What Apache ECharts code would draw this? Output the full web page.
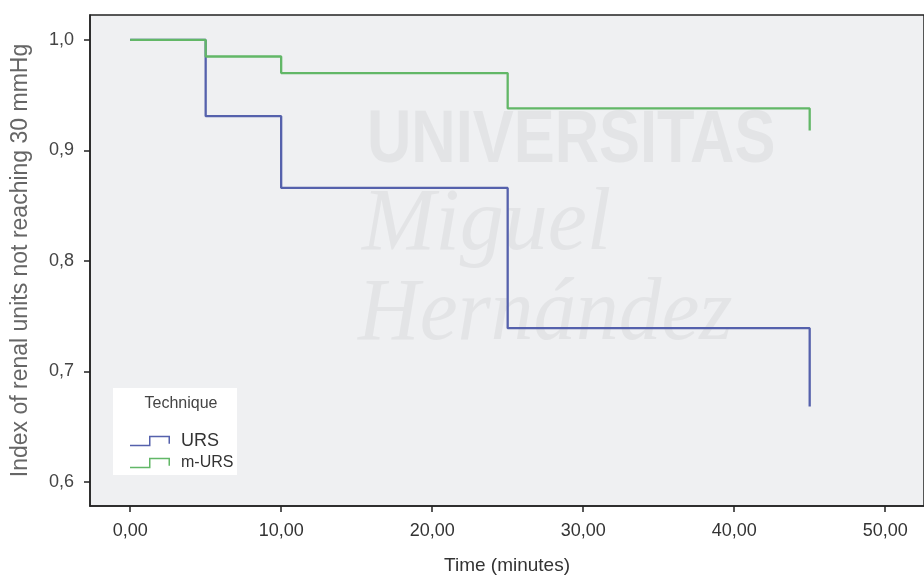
<!DOCTYPE html>
<html>
<head>
<meta charset="utf-8">
<script src="https://cdn.jsdelivr.net/npm/echarts@6/dist/echarts.min.js"></script>
<style>
  html, body { margin: 0; padding: 0; background: #ffffff; }
  #chart { width: 924px; height: 583px; }
</style>
</head>
<body>
<div id="chart"></div>
<script>
// ---- Data ----
const seriesNames = ['URS', 'm-URS'];
const timesURS = [0, 5, 10, 25, 45];
const survURS = [1.0, 0.931, 0.866, 0.739, 0.668];
const timesMURS = [0, 5, 10, 25, 45];
const survMURS = [1.0, 0.985, 0.970, 0.938, 0.918];
const xTicks = [0, 10, 20, 30, 40, 50];
const yTicks = [0.6, 0.7, 0.8, 0.9, 1.0];
const xTitle = 'Time (minutes)';
const yTitle = 'Index of renal units not reaching 30 mmHg';
const legendTitle = 'Technique';

const colURS = '#5561ac';
const colMURS = '#62b767';
const wm = '#e3e4e6';

function pairs(xs, ys) { return xs.map((x, i) => [x, ys[i]]); }
const stepIcon = 'path://M0,9 L19,9 L19,0 L40,0 L40,8 L38.5,8 L38.5,1.5 L20.5,1.5 L20.5,10.5 L0,10.5 Z';

const chart = echarts.init(document.getElementById('chart'), null, { renderer: 'canvas' });
chart.setOption({
  animation: false,
  backgroundColor: '#ffffff',
  grid: {
    left: 90, top: 15, right: -5, bottom: 77,
    show: true, backgroundColor: '#eff0f2', borderColor: '#222', borderWidth: 1.5
  },
  xAxis: {
    type: 'value', min: -2.66, max: 52.57,
    splitLine: { show: false },
    axisLine: { show: true, onZero: false, lineStyle: { color: '#222', width: 1.5 } },
    axisTick: { show: true, customValues: xTicks, length: 6, lineStyle: { color: '#222', width: 1.5 } },
    axisLabel: {
      customValues: xTicks, margin: 16, fontSize: 18, color: '#333',
      fontFamily: 'Liberation Sans, Arial, sans-serif',
      formatter: v => v.toFixed(2).replace('.', ',')
    },
    name: xTitle, nameLocation: 'middle', nameGap: 50,
    nameTextStyle: { fontSize: 19, color: '#333', fontFamily: 'Liberation Sans, Arial, sans-serif' }
  },
  yAxis: {
    type: 'value', min: 0.578, max: 1.0226,
    splitLine: { show: false },
    axisLine: { show: true, onZero: false, lineStyle: { color: '#222', width: 1.5 } },
    axisTick: { show: true, customValues: yTicks, length: 6, lineStyle: { color: '#222', width: 1.5 } },
    axisLabel: {
      customValues: yTicks, margin: 16, fontSize: 18, color: '#444',
      fontFamily: 'Liberation Sans, Arial, sans-serif',
      formatter: v => v.toFixed(1).replace('.', ',')
    },
    name: yTitle, nameLocation: 'middle', nameGap: 58, nameRotate: 90,
    nameTextStyle: { fontSize: 23, color: '#666', fontFamily: 'Liberation Sans, Arial, sans-serif' }
  },
  legend: {
    orient: 'vertical', left: 125, top: 427, itemGap: 5,
    itemWidth: 40, itemHeight: 11,
    itemStyle: { borderWidth: 0 },
    textStyle: { color: '#333', fontFamily: 'Liberation Sans, Arial, sans-serif', padding: [0, 0, 0, 6] },
    data: [
      { name: seriesNames[0], icon: stepIcon, textStyle: { fontSize: 18 } },
      { name: seriesNames[1], icon: stepIcon, textStyle: { fontSize: 16 } }
    ]
  },
  graphic: [
    { type: 'text', z: 1, silent: true, x: 367, y: 142, scaleX: 0.83,
      style: { text: 'UNIVERSITAS', font: 'bold 74px Liberation Sans, Arial, sans-serif', fill: wm, textVerticalAlign: 'middle' } },
    { type: 'text', z: 1, silent: true, x: 362, y: 226,
      style: { text: 'Miguel', font: 'italic 88px Liberation Serif, Times New Roman, serif', fill: wm, textVerticalAlign: 'middle' } },
    { type: 'text', z: 1, silent: true, x: 358, y: 316, scaleX: 0.97,
      style: { text: 'Hernández', font: 'italic 88px Liberation Serif, Times New Roman, serif', fill: wm, textVerticalAlign: 'middle' } },
    { type: 'rect', z: 3, silent: true, shape: { x: 113, y: 388, width: 124, height: 87 },
      style: { fill: '#ffffff' } },
    { type: 'text', z: 4, silent: true, x: 181, y: 404,
      style: { text: legendTitle, font: '16px Liberation Sans, Arial, sans-serif', fill: '#444', textAlign: 'center', textVerticalAlign: 'middle' } }
  ],
  series: [
    {
      name: seriesNames[0], type: 'line', step: 'end', showSymbol: false, symbol: 'none',
      data: pairs(timesURS, survURS), z: 2,
      lineStyle: { color: colURS, width: 2.3 }, itemStyle: { color: colURS }
    },
    {
      name: seriesNames[1], type: 'line', step: 'end', showSymbol: false, symbol: 'none',
      data: pairs(timesMURS, survMURS), z: 2,
      lineStyle: { color: colMURS, width: 2.3 }, itemStyle: { color: colMURS }
    }
  ]
});
</script>
</body>
</html>
